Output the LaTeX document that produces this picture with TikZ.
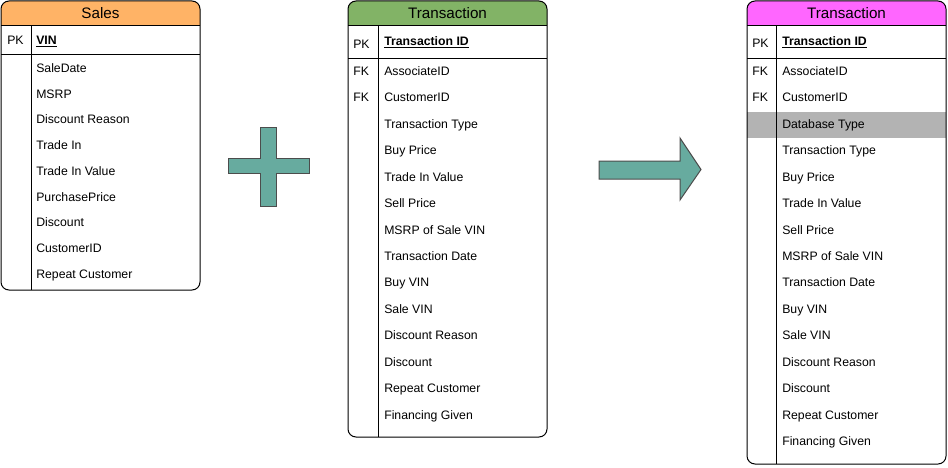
\documentclass[tikz,border=0pt]{standalone}
\usepackage{fontspec}
\setmainfont{Liberation Sans}
\begin{document}
\begin{tikzpicture}[x=0.75pt,y=-0.75pt,
  tblline/.style={draw=black,line width=0.75pt},
  rowtext/.style={anchor=west,inner sep=0pt,text height=6.5pt,text depth=0pt,font=\fontsize{9.2}{10}\selectfont},
  hdrtext/.style={inner sep=0pt,text height=8pt,text depth=0pt,font=\fontsize{11.4}{12}\selectfont},
  shapefill/.style={fill=teal67,draw=black!70,line width=0.75pt}]
\definecolor{salesorange}{HTML}{FFB366}
\definecolor{transgreen}{HTML}{82B366}
\definecolor{transpink}{HTML}{FF66FF}
\definecolor{teal67}{HTML}{67AB9F}
\definecolor{bandgrey}{HTML}{B3B3B3}
\useasboundingbox (0,0) rectangle (948,467);

% ---------------- Sales table
\fill[salesorange] (1,26) {[rounded corners=6pt] -- (1,1) -- (200,1)} -- (200,26) -- cycle;
\draw[tblline] (1,26) -- (200,26);
\draw[tblline] (1,55) -- (200,55);
\draw[tblline] (31,26) -- (31,290);
\draw[tblline,rounded corners=6pt] (1,1) rectangle (200,290);
\node[hdrtext] (s-title) at (100.5,13.5) {Sales};
\node[rowtext] (s-pk) at (7,40) {PK};
\node[rowtext] (s-vin) at (36,40) {\underline{\textbf{VIN}}};
\foreach \t [count=\i] in {SaleDate,MSRP,Discount Reason,Trade In,Trade In Value,PurchasePrice,Discount,CustomerID,Repeat Customer}
  \node[rowtext] (s-r\i) at (36,{68+(\i-1)*25.75}) {\t};

% ---------------- plus
\draw[shapefill] (260,127) -- (276,127) -- (276,158) -- (309,158) -- (309,173) -- (276,173)
  -- (276,206) -- (260,206) -- (260,173) -- (228,173) -- (228,158) -- (260,158) -- cycle;

% ---------------- middle Transaction table
\fill[transgreen] (348,26) {[rounded corners=6pt] -- (348,1) -- (547,1)} -- (547,26) -- cycle;
\draw[tblline] (348,26) -- (547,26);
\draw[tblline] (348,59) -- (547,59);
\draw[tblline] (378,26) -- (378,437);
\draw[tblline,rounded corners=6pt] (348,1) rectangle (547,437);
\node[hdrtext] (m-title) at (447.5,13.5) {Transaction};
\node[rowtext] (m-pk) at (353,44) {PK};
\node[rowtext] (m-tid) at (384,41) {\underline{\textbf{Transaction ID}}};
\node[rowtext] (m-fk1) at (353,71) {FK};
\node[rowtext] (m-fk2) at (353,97.5) {FK};
\foreach \t [count=\i] in {AssociateID,CustomerID,Transaction Type,Buy Price,Trade In Value,Sell Price,MSRP of Sale VIN,Transaction Date,Buy VIN,Sale VIN,Discount Reason,Discount,Repeat Customer,Financing Given}
  \node[rowtext] (m-r\i) at (384,{71+(\i-1)*26.45}) {\t};

% ---------------- arrow
\draw[shapefill] (599,161) -- (680,161) -- (680,138) -- (701,169.5) -- (680,200) -- (680,179) -- (599,179) -- cycle;

% ---------------- right Transaction table
\fill[transpink] (747,26) {[rounded corners=6pt] -- (747,1) -- (946,1)} -- (946,26) -- cycle;
\fill[bandgrey] (747,112) rectangle (946,138);
\draw[tblline] (747,26) -- (946,26);
\draw[tblline] (747,59) -- (946,59);
\draw[tblline] (776,26) -- (776,464);
\draw[tblline,rounded corners=6pt] (747,1) rectangle (946,464);
\node[hdrtext] (r-title) at (846.5,13.5) {Transaction};
\node[rowtext] (r-pk) at (752,43) {PK};
\node[rowtext] (r-tid) at (782,41) {\underline{\textbf{Transaction ID}}};
\node[rowtext] (r-fk1) at (752,71) {FK};
\node[rowtext] (r-fk2) at (752,97.5) {FK};
\foreach \t [count=\i] in {AssociateID,CustomerID,Database Type,Transaction Type,Buy Price,Trade In Value,Sell Price,MSRP of Sale VIN,Transaction Date,Buy VIN,Sale VIN,Discount Reason,Discount,Repeat Customer,Financing Given}
  \node[rowtext] (r-r\i) at (782,{71+(\i-1)*26.45}) {\t};
\end{tikzpicture}
\end{document}
